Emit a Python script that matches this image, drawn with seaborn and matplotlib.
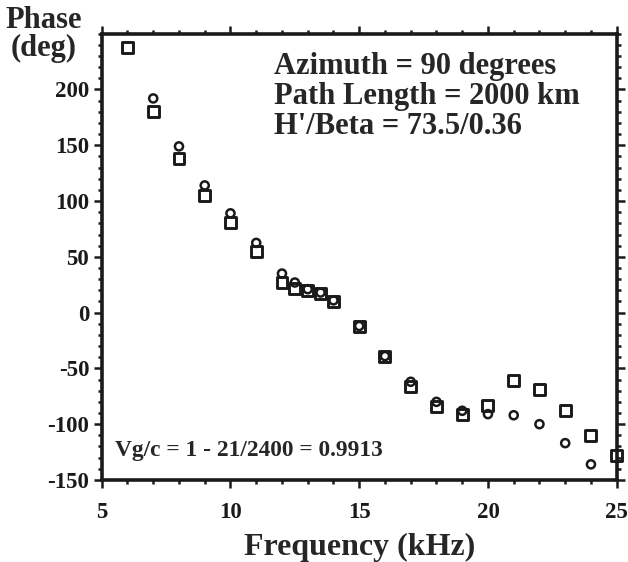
import numpy as np
import pandas as pd
import seaborn as sns
import matplotlib.pyplot as plt
from matplotlib.ticker import MultipleLocator

sns.set_style("ticks")
plt.rcParams['font.family'] = ['Liberation Serif', 'DejaVu Serif']
plt.rcParams['font.weight'] = 'bold'
plt.rcParams['axes.unicode_minus'] = False

# squares (measured)
freq_sq = [6, 7, 8, 9, 10, 11, 12, 12.5, 13, 13.5, 14, 15, 16, 17, 18, 19, 20, 21, 22, 23, 24, 25]
phase_sq = [238, 180, 138, 105, 81, 54.5, 27, 22, 19.5, 17, 10, -12.5, -39, -66, -84, -91, -83, -61, -69, -87.5, -110, -128.5]
# circles (model)
freq_ci = [7, 8, 9, 10, 11, 12, 12.5, 13, 13.5, 14, 15, 16, 17, 18, 19, 20, 21, 22, 23, 24]
phase_ci = [192, 149, 114, 89, 62.5, 35, 27, 21, 18, 11, -12, -39, -62, -80, -88, -91, -92, -100, -117, -136]

df_sq = pd.DataFrame({"freq": freq_sq, "phase": phase_sq})
df_ci = pd.DataFrame({"freq": freq_ci, "phase": phase_ci})

fig = plt.figure(figsize=(6.28, 5.62), dpi=100)
ax = fig.add_axes([0.162, 0.146, 0.820, 0.794])

ink = "#1a1a1a"
sns.scatterplot(data=df_sq, x="freq", y="phase", marker="s", s=62,
                facecolor="none", edgecolor=ink, linewidth=2.1, ax=ax,
                zorder=3, clip_on=False)
sns.scatterplot(data=df_ci, x="freq", y="phase", marker="o", s=34,
                facecolor="none", edgecolor=ink, linewidth=1.8, ax=ax,
                zorder=4, clip_on=False)

ax.set_xlim(5, 25)
ax.set_ylim(-150, 250)
ax.set_xticks([5, 10, 15, 20, 25])
ax.set_yticks([-150, -100, -50, 0, 50, 100, 150, 200])
ax.xaxis.set_minor_locator(MultipleLocator(1))
ax.yaxis.set_minor_locator(MultipleLocator(10))
ax.tick_params(which="both", top=True, right=True, direction="out",
               width=1.8, labelsize=16.5, colors=ink)
ax.tick_params(which="major", length=6)
ax.tick_params(which="minor", length=3)
ax.tick_params(axis="x", which="major", pad=10)
ax.tick_params(axis="y", which="major", pad=3)
for sp in ax.spines.values():
    sp.set_linewidth(2.6)
    sp.set_color(ink)
for lab in ax.get_xticklabels() + ax.get_yticklabels():
    lab.set_fontweight("bold")

ax.set_xlabel("Frequency (kHz)", fontsize=23, fontweight="bold", labelpad=7)
ax.set_ylabel("")
fig.text(0.069, 0.99, "Phase\n(deg)", ha="center", va="top", fontsize=22,
         fontweight="bold", linespacing=0.95)

ax.text(0.335, 0.96, "Azimuth = 90 degrees\nPath Length = 2000 km\nH'/Beta = 73.5/0.36",
        transform=ax.transAxes, ha="left", va="top", fontsize=22,
        fontweight="bold", linespacing=1.05)
ax.text(0.026, 0.065, "Vg/c = 1 - 21/2400 = 0.9913", transform=ax.transAxes,
        ha="left", va="center", fontsize=16.8, fontweight="bold")

fig.savefig("out.png", dpi=100)
